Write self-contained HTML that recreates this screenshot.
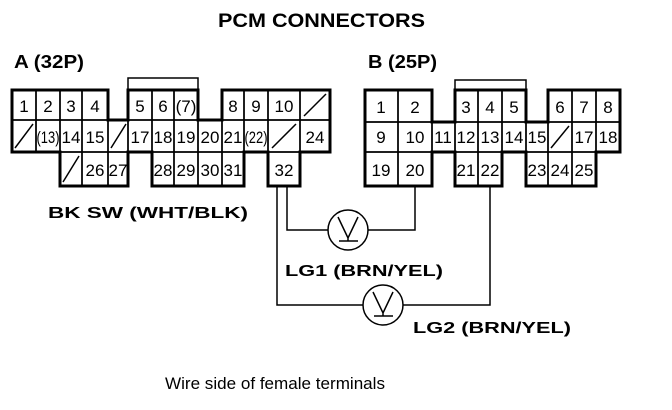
<!DOCTYPE html>
<html><head><meta charset="utf-8"><style>
html,body{margin:0;padding:0;background:#fff;}
svg{display:block;}
text{font-family:"Liberation Sans",sans-serif;fill:#000;}
.n{font-size:17px;text-anchor:middle;}
.b{font-weight:bold;}
</style></head><body>
<svg width="672" height="410" viewBox="0 0 672 410" xmlns="http://www.w3.org/2000/svg">
<text x="218" y="27" class="b" font-size="19" textLength="207" lengthAdjust="spacingAndGlyphs">PCM CONNECTORS</text>
<text x="14" y="68" class="b" font-size="18" textLength="70" lengthAdjust="spacingAndGlyphs">A (32P)</text>
<text x="368" y="68" class="b" font-size="18" textLength="69" lengthAdjust="spacingAndGlyphs">B (25P)</text>

<g fill="none" stroke="#000" stroke-width="1.5">
<rect x="12" y="90" width="24" height="30"/><rect x="36" y="90" width="24" height="30"/><rect x="60" y="90" width="22" height="30"/><rect x="82" y="90" width="26" height="30"/>
<rect x="128" y="90" width="24" height="30"/><rect x="152" y="90" width="22" height="30"/><rect x="174" y="90" width="24" height="30"/>
<rect x="222" y="90" width="22" height="30"/><rect x="244" y="90" width="24" height="30"/><rect x="268" y="90" width="32" height="30"/><rect x="300" y="90" width="30" height="30"/>
<rect x="12" y="120" width="24" height="32"/><rect x="36" y="120" width="24" height="32"/><rect x="60" y="120" width="22" height="32"/><rect x="82" y="120" width="26" height="32"/><rect x="108" y="120" width="20" height="32"/>
<rect x="128" y="120" width="24" height="32"/><rect x="152" y="120" width="22" height="32"/><rect x="174" y="120" width="24" height="32"/><rect x="198" y="120" width="24" height="32"/><rect x="222" y="120" width="22" height="32"/><rect x="244" y="120" width="24" height="32"/><rect x="268" y="120" width="32" height="32"/><rect x="300" y="120" width="30" height="32"/>
<rect x="60" y="152" width="22" height="34"/><rect x="82" y="152" width="26" height="34"/><rect x="108" y="152" width="20" height="34"/>
<rect x="152" y="152" width="22" height="34"/><rect x="174" y="152" width="24" height="34"/><rect x="198" y="152" width="24" height="34"/><rect x="222" y="152" width="22" height="34"/>
<rect x="268" y="152" width="32" height="34"/>
<path d="M128 90 V78 H198 V90"/>
<path d="M304 116 L326 94 M15 148 L33 124 M111 148 L126 124 M272 148 L296 124 M63 182 L79 156"/>

<rect x="365" y="90" width="33" height="32"/><rect x="398" y="90" width="34" height="32"/>
<rect x="455" y="90" width="23" height="32"/><rect x="478" y="90" width="24" height="32"/><rect x="502" y="90" width="24" height="32"/>
<rect x="548" y="90" width="24" height="32"/><rect x="572" y="90" width="24" height="32"/><rect x="596" y="90" width="24" height="32"/>
<rect x="365" y="122" width="33" height="30"/><rect x="398" y="122" width="34" height="30"/><rect x="432" y="122" width="23" height="30"/><rect x="455" y="122" width="23" height="30"/><rect x="478" y="122" width="24" height="30"/><rect x="502" y="122" width="24" height="30"/><rect x="526" y="122" width="22" height="30"/><rect x="548" y="122" width="24" height="30"/><rect x="572" y="122" width="24" height="30"/><rect x="596" y="122" width="24" height="30"/>
<rect x="365" y="152" width="33" height="34"/><rect x="398" y="152" width="34" height="34"/>
<rect x="455" y="152" width="23" height="34"/><rect x="478" y="152" width="24" height="34"/>
<rect x="526" y="152" width="22" height="34"/><rect x="548" y="152" width="24" height="34"/><rect x="572" y="152" width="24" height="34"/>
<path d="M455 90 V80 H526 V90"/>
<path d="M551 148 L569 126"/>

<path d="M287 186 V230 H328 M368 230 H415 V186"/>
<path d="M277 186 V305 H363 M403 305 H490 V186"/>
<circle cx="348" cy="230" r="20"/>
<circle cx="383" cy="305" r="20"/>
<path d="M338 217 L348 238 L358 217 M348 238 V241 M339 241 H358"/>
<path d="M373 292 L383 313 L393 292 M383 313 V316 M374 316 H393"/>
</g>
<g fill="none" stroke="#000" stroke-width="3">
<path d="M12 90 H108 V120 H128 V90 H198 V120 H222 V90 H330 V152 H300 V186 H268 V152 H244 V186 H152 V152 H128 V186 H60 V152 H12 Z"/>
<path d="M365 90 H432 V122 H455 V90 H526 V122 H548 V90 H620 V152 H596 V186 H526 V152 H502 V186 H455 V152 H432 V186 H365 Z"/>
</g>

<g class="n">
<text x="24" y="112">1</text><text x="48" y="112">2</text><text x="71" y="112">3</text><text x="95" y="112">4</text>
<text x="140" y="112">5</text><text x="163" y="112">6</text><text x="186" y="112">(7)</text>
<text x="233" y="112">8</text><text x="256" y="112">9</text><text x="284" y="112">10</text>
<text x="48" y="143" textLength="23" lengthAdjust="spacingAndGlyphs">(13)</text><text x="71" y="143">14</text><text x="95" y="143">15</text>
<text x="140" y="143">17</text><text x="163" y="143">18</text><text x="186" y="143">19</text><text x="210" y="143">20</text><text x="233" y="143">21</text><text x="256" y="143" textLength="23" lengthAdjust="spacingAndGlyphs">(22)</text><text x="315" y="143">24</text>
<text x="95" y="176">26</text><text x="118" y="176">27</text>
<text x="163" y="176">28</text><text x="186" y="176">29</text><text x="210" y="176">30</text><text x="233" y="176">31</text><text x="284" y="176">32</text>

<text x="381" y="113">1</text><text x="415" y="113">2</text>
<text x="466" y="113">3</text><text x="490" y="113">4</text><text x="514" y="113">5</text>
<text x="560" y="113">6</text><text x="584" y="113">7</text><text x="608" y="113">8</text>
<text x="381" y="143">9</text><text x="415" y="143">10</text><text x="443" y="143">11</text><text x="466" y="143">12</text><text x="490" y="143">13</text><text x="514" y="143">14</text><text x="537" y="143">15</text><text x="584" y="143">17</text><text x="608" y="143">18</text>
<text x="381" y="176">19</text><text x="415" y="176">20</text><text x="466" y="176">21</text><text x="490" y="176">22</text><text x="537" y="176">23</text><text x="560" y="176">24</text><text x="584" y="176">25</text>
</g>

<text x="48" y="218" class="b" font-size="16" textLength="200" lengthAdjust="spacingAndGlyphs">BK SW (WHT/BLK)</text>
<text x="285" y="276" class="b" font-size="16" textLength="158" lengthAdjust="spacingAndGlyphs">LG1 (BRN/YEL)</text>
<text x="413" y="333" class="b" font-size="16" textLength="158" lengthAdjust="spacingAndGlyphs">LG2 (BRN/YEL)</text>
<text x="165" y="389" font-size="17" textLength="220" lengthAdjust="spacingAndGlyphs">Wire side of female terminals</text>
</svg>
</body></html>
